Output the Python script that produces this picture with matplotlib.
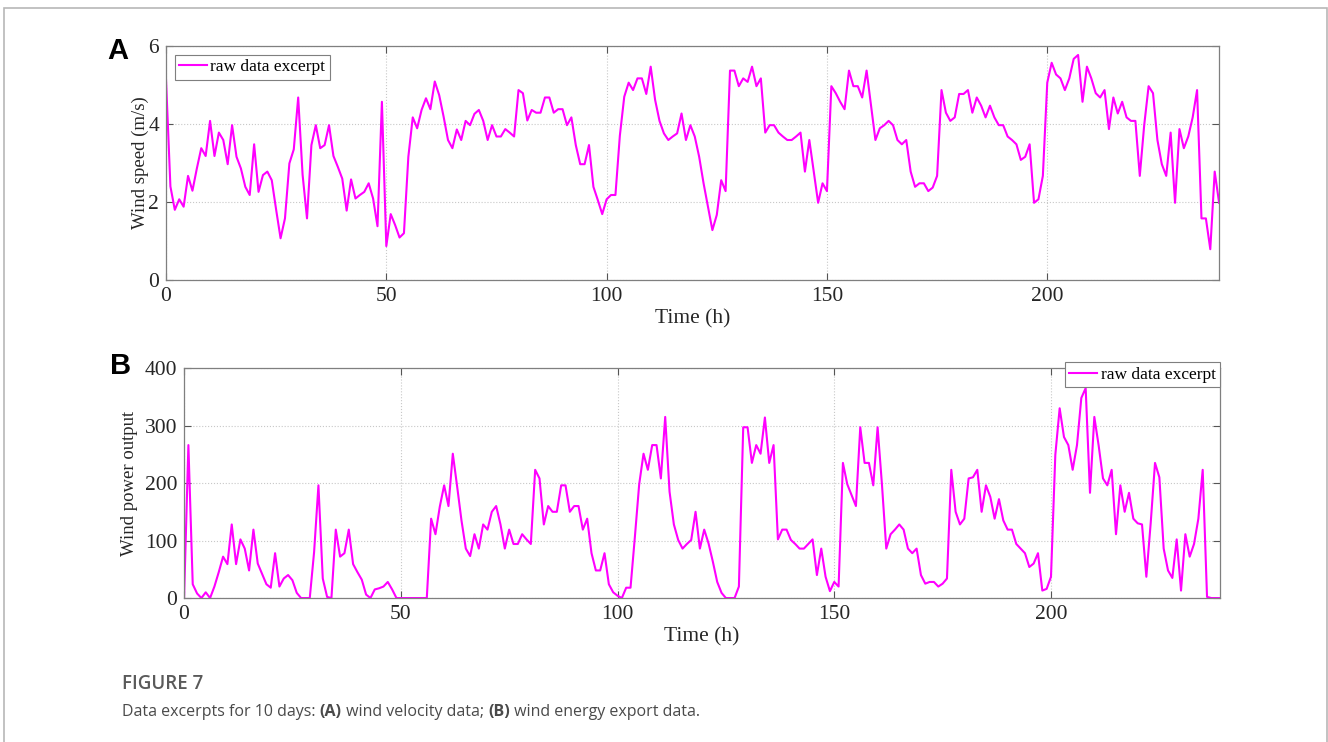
import matplotlib
matplotlib.use("Agg")
import matplotlib.pyplot as plt
from matplotlib.patches import Rectangle

plt.rcParams['font.family'] = 'serif'
plt.rcParams['font.serif'] = ['Liberation Serif', 'DejaVu Serif']
plt.rcParams['mathtext.fontset'] = 'stix'

# hourly wind speed excerpt (m/s)
speed = [
    5.15, 2.40, 1.80, 2.07, 1.88, 2.67, 2.29, 2.86, 3.38, 3.18,
    4.08, 3.18, 3.78, 3.59, 2.97, 3.97, 3.16, 2.86, 2.39, 2.18,
    3.48, 2.26, 2.69, 2.78, 2.56, 1.80, 1.07, 1.58, 2.99, 3.35,
    4.68, 2.70, 1.58, 3.46, 3.97, 3.38, 3.46, 3.97, 3.18, 2.90,
    2.60, 1.78, 2.58, 2.09, 2.18, 2.26, 2.48, 2.09, 1.38, 4.57,
    0.87, 1.69, 1.41, 1.09, 1.20, 3.16, 4.17, 3.89, 4.36, 4.66,
    4.38, 5.09, 4.74, 4.19, 3.59, 3.38, 3.86, 3.59, 4.08, 3.97,
    4.26, 4.36, 4.08, 3.59, 3.97, 3.68, 3.68, 3.87, 3.78, 3.68,
    4.87, 4.79, 4.09, 4.36, 4.29, 4.29, 4.68, 4.68, 4.29, 4.38,
    4.38, 3.97, 4.17, 3.46, 2.97, 2.97, 3.46, 2.39, 2.05, 1.69,
    2.07, 2.18, 2.18, 3.70, 4.70, 5.06, 4.87, 5.17, 5.17, 4.77,
    5.47, 4.62, 4.08, 3.76, 3.59, 3.68, 3.76, 4.27, 3.59, 3.97,
    3.68, 3.16, 2.48, 1.88, 1.28, 1.67, 2.56, 2.28, 5.37, 5.37,
    4.97, 5.17, 5.08, 5.47, 4.97, 5.17, 3.78, 3.97, 3.97, 3.78,
    3.68, 3.59, 3.59, 3.68, 3.78, 2.78, 3.59, 2.78, 1.98, 2.48,
    2.28, 4.97, 4.79, 4.57, 4.38, 5.37, 4.97, 4.97, 4.68, 5.37,
    4.49, 3.59, 3.89, 3.97, 4.08, 3.97, 3.59, 3.48, 3.59, 2.78,
    2.39, 2.48, 2.48, 2.28, 2.37, 2.67, 4.87, 4.29, 4.08, 4.17,
    4.77, 4.77, 4.87, 4.29, 4.68, 4.47, 4.17, 4.47, 4.17, 3.97,
    3.97, 3.68, 3.59, 3.48, 3.08, 3.16, 3.48, 1.98, 2.07, 2.67,
    5.06, 5.57, 5.27, 5.17, 4.87, 5.17, 5.67, 5.77, 4.57, 5.47,
    5.17, 4.79, 4.68, 4.87, 3.87, 4.68, 4.27, 4.57, 4.17, 4.08,
    4.08, 2.67, 3.97, 4.97, 4.79, 3.59, 2.97, 2.67, 3.78, 1.98,
    3.87, 3.38, 3.68, 4.17, 4.87, 1.58, 1.58, 0.79, 2.78, 1.98,
]

# hourly wind power output excerpt
power = [
    0, 266, 24, 8, 0, 10, 0, 20, 45, 72,
    59, 128, 59, 102, 86, 48, 119, 60, 42, 24,
    18, 78, 20, 34, 40, 31, 9, 0, 0, 0,
    80, 196, 34, 2, 0, 119, 72, 78, 119, 59,
    45, 32, 6, 0, 15, 17, 20, 28, 15, 0,
    0, 0, 0, 0, 0, 0, 0, 138, 111, 159,
    196, 160, 251, 194, 135, 86, 73, 111, 86, 128,
    119, 150, 160, 128, 86, 119, 94, 94, 111, 102,
    94, 223, 208, 128, 160, 150, 150, 196, 196, 150,
    160, 160, 119, 138, 78, 48, 48, 78, 24, 10,
    4, 0, 18, 18, 106, 198, 251, 223, 266, 266,
    208, 315, 185, 128, 101, 86, 94, 101, 150, 86,
    119, 95, 63, 28, 9, 0, 0, 0, 20, 297,
    297, 235, 266, 251, 314, 235, 266, 102, 119, 119,
    101, 94, 86, 86, 94, 102, 40, 86, 37, 12,
    28, 20, 235, 198, 179, 160, 297, 235, 235, 196,
    297, 198, 86, 111, 119, 128, 119, 86, 78, 86,
    40, 25, 28, 28, 20, 25, 34, 223, 150, 128,
    138, 208, 210, 223, 150, 196, 176, 138, 172, 135,
    119, 119, 94, 86, 78, 54, 60, 78, 13, 16,
    37, 249, 330, 280, 266, 223, 266, 348, 365, 183,
    315, 265, 208, 196, 223, 111, 196, 150, 183, 138,
    130, 128, 37, 130, 235, 210, 86, 48, 35, 102,
    13, 111, 72, 94, 138, 223, 2, 0, 0, 0,
]

hours = list(range(len(speed)))
xticks = [0, 50, 100, 150, 200]

fig = plt.figure(figsize=(13.28, 7.42), dpi=100)

# thin grey page frame
fig.patches.append(Rectangle((4 / 1328, -0.05), 1323 / 1328, 1.05 - 8 / 742,
                             transform=fig.transFigure, fill=False,
                             edgecolor='#b8b8b8', linewidth=1.2))


def style_axes(ax):
    for s in ax.spines.values():
        s.set_color('#7f7f7f')
        s.set_linewidth(0.9)
    ax.tick_params(direction='in', length=5, width=0.8, color='#555555',
                   top=True, right=True, labelsize=15.5, labelcolor='#262626',
                   pad=5)
    ax.grid(True, linestyle=':', color='#c8c8c8', linewidth=0.8)
    ax.set_xticks(xticks)
    ax.set_xlim(0, 239)


def add_legend(ax, **kw):
    leg = ax.legend(fontsize=12.5, fancybox=False, edgecolor='#7f7f7f',
                    framealpha=1, handlelength=1.6, handletextpad=0.2,
                    borderpad=0.25, **kw)
    leg.get_frame().set_linewidth(0.8)
    return leg


ax1 = fig.add_axes([0.125, 0.6226, 0.793, 0.3154])
ax1.plot(hours, speed, color='#ff00ff', linewidth=1.5, label='raw data excerpt')
style_axes(ax1)
ax1.set_ylim(0, 6)
ax1.set_yticks([0, 2, 4, 6])
ax1.set_xlabel('Time (h)', fontsize=15.5, color='#262626', labelpad=2)
ax1.set_ylabel('Wind speed (m/s)', fontsize=13.5, color='#262626')
ax1.yaxis.set_label_coords(-0.016, 0.5)
add_legend(ax1, loc='upper left', borderaxespad=0.5)

ax2 = fig.add_axes([0.1386, 0.194, 0.7801, 0.310])
ax2.plot(hours, power, color='#ff00ff', linewidth=1.5, label='raw data excerpt')
style_axes(ax2)
ax2.set_ylim(0, 400)
ax2.set_yticks([0, 100, 200, 300, 400])
ax2.set_xlabel('Time (h)', fontsize=15.5, color='#262626', labelpad=2)
ax2.set_ylabel('Wind power output', fontsize=13.5, color='#262626')
ax2.yaxis.set_label_coords(-0.044, 0.5)
add_legend(ax2, loc='upper right', bbox_to_anchor=(1.0, 1.025),
           borderaxespad=0.0)

# panel letters
fig.text(118 / 1328, 1 - 51 / 742, 'A', fontsize=21, fontweight='bold',
         family='Liberation Sans', ha='center', va='center')
fig.text(121 / 1328, 1 - 366 / 742, 'B', fontsize=21, fontweight='bold',
         family='Liberation Sans', ha='center', va='center')

# caption
cap_font = 'Open Sans'
fig.text(122 / 1328, 1 - 684 / 742, 'FIGURE 7', fontsize=13.5,
         family=cap_font, fontweight='semibold', color='#5a5a5a',
         ha='left', va='center')

pieces = [('Data excerpts for 10 days: ', 'normal'), ('(A)', 'bold'),
          (' wind velocity data; ', 'normal'), ('(B)', 'bold'),
          (' wind energy export data.', 'normal')]
fig.canvas.draw()
renderer = fig.canvas.get_renderer()
x = 122 / 1328
for txt, weight in pieces:
    t = fig.text(x, 1 - 712 / 742, txt, fontsize=11.5, family=cap_font,
                 fontweight=weight, color='#4a4a4a', ha='left', va='center')
    bb = t.get_window_extent(renderer=renderer)
    x += bb.width / fig.bbox.width

fig.savefig('out.png', dpi=100)
